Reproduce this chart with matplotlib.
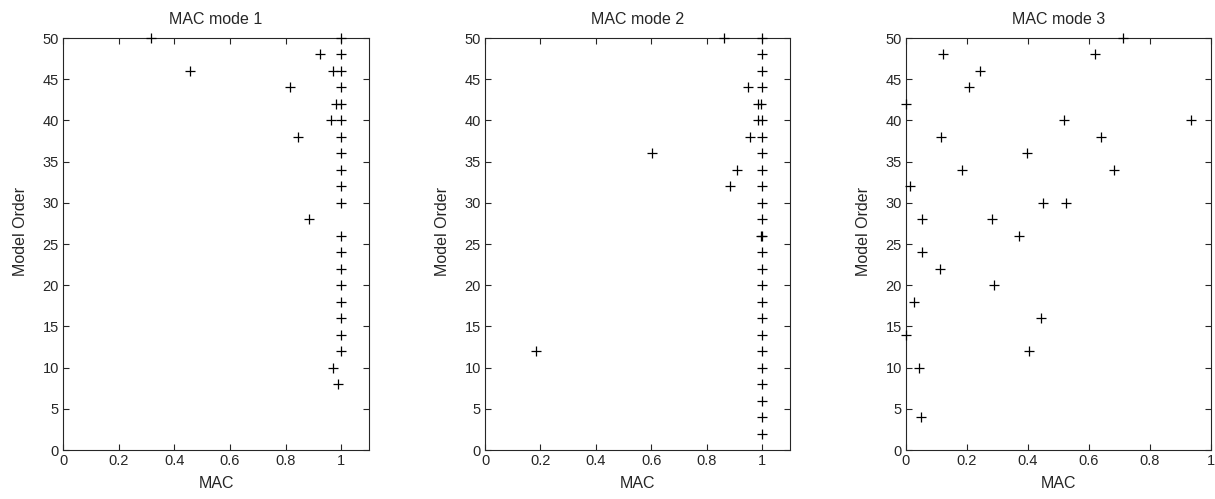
import matplotlib
matplotlib.use("Agg")
import matplotlib.pyplot as plt

plt.rcParams['font.family'] = ['Liberation Sans', 'DejaVu Sans']

# Mode 1
mode1_mac = [0.316, 1.0, 0.924, 1.0, 0.457, 0.969, 1.0, 0.816, 1.0, 0.982, 1.0,
             0.963, 1.0, 0.843, 1.0, 1.0, 1.0, 1.0, 1.0, 0.886, 1.0, 1.0, 1.0,
             1.0, 1.0, 1.0, 1.0, 1.0, 0.971, 0.989]
mode1_order = [50, 50, 48, 48, 46, 46, 46, 44, 44, 42, 42,
               40, 40, 38, 38, 36, 34, 32, 30, 28, 26, 24, 22,
               20, 18, 16, 14, 12, 10, 8]

# Mode 2
mode2_mac = [0.863, 1.0, 1.0, 1.0, 0.948, 1.0, 0.985, 0.997, 0.985, 1.0,
             0.954, 1.0, 0.602, 1.0, 0.908, 1.0, 0.882, 1.0, 1.0, 1.0,
             0.995, 1.0, 1.0, 1.0, 1.0, 1.0, 1.0, 1.0, 1.0, 0.185, 1.0,
             1.0, 1.0, 1.0, 1.0]
mode2_order = [50, 50, 48, 46, 44, 44, 42, 42, 40, 40,
               38, 38, 36, 36, 34, 34, 32, 32, 30, 28,
               26, 26, 24, 22, 20, 18, 16, 14, 12, 12, 10,
               8, 6, 4, 2]

# Mode 3
mode3_mac = [0.712, 0.120, 0.620, 0.241, 0.205, 0.0, 0.519, 0.934, 0.116,
             0.640, 0.397, 0.184, 0.682, 0.013, 0.448, 0.525, 0.052, 0.282,
             0.372, 0.052, 0.110, 0.290, 0.025, 0.444, 0.0, 0.402, 0.044, 0.048]
mode3_order = [50, 48, 48, 46, 44, 42, 40, 40, 38,
               38, 36, 34, 34, 32, 30, 30, 28, 28,
               26, 24, 22, 20, 18, 16, 14, 12, 10, 4]

titles = ["MAC mode 1", "MAC mode 2", "MAC mode 3"]
xlims = [(0, 1.1), (0, 1.1), (0, 1.0)]
xticks_list = [[0, 0.2, 0.4, 0.6, 0.8, 1], [0, 0.2, 0.4, 0.6, 0.8, 1],
               [0, 0.2, 0.4, 0.6, 0.8, 1]]
xticklabels = ["0", "0.2", "0.4", "0.6", "0.8", "1"]
yticks = [0, 5, 10, 15, 20, 25, 30, 35, 40, 45, 50]

W, H = 1215, 499
fig = plt.figure(figsize=(W / 100, H / 100), dpi=100)
boxes = [(63, 369), (485, 790), (906, 1211)]
top, bottom = 38, 450
data = [(mode1_mac, mode1_order), (mode2_mac, mode2_order), (mode3_mac, mode3_order)]
txt = '#262626'

for i, ((l, r), (xs, ys)) in enumerate(zip(boxes, data)):
    ax = fig.add_axes([l / W, 1 - bottom / H, (r - l) / W, (bottom - top) / H])
    ax.plot(xs, ys, linestyle='none', marker='+', color='black',
            markersize=7.5, markeredgewidth=0.9, clip_on=False, zorder=5)
    ax.set_xlim(*xlims[i])
    ax.set_ylim(0, 50)
    ax.set_xticks(xticks_list[i])
    ax.set_xticklabels(xticklabels)
    ax.set_yticks(yticks)
    ax.set_yticklabels([str(v) for v in yticks])
    ax.tick_params(direction='in', length=4, width=0.8, top=True, right=True,
                   labelsize=10.5, colors=txt, pad=3)
    for s in ax.spines.values():
        s.set_color(txt)
        s.set_linewidth(0.8)
    ax.set_title(titles[i], fontsize=11.5, color=txt, pad=10)
    ax.set_xlabel("MAC", fontsize=11.5, color=txt, labelpad=6)
    ax.set_ylabel("Model Order", fontsize=11.5, color=txt)
    ax.yaxis.set_label_coords(-35 / (r - l), 0.53)

fig.savefig("out.png", dpi=100)
